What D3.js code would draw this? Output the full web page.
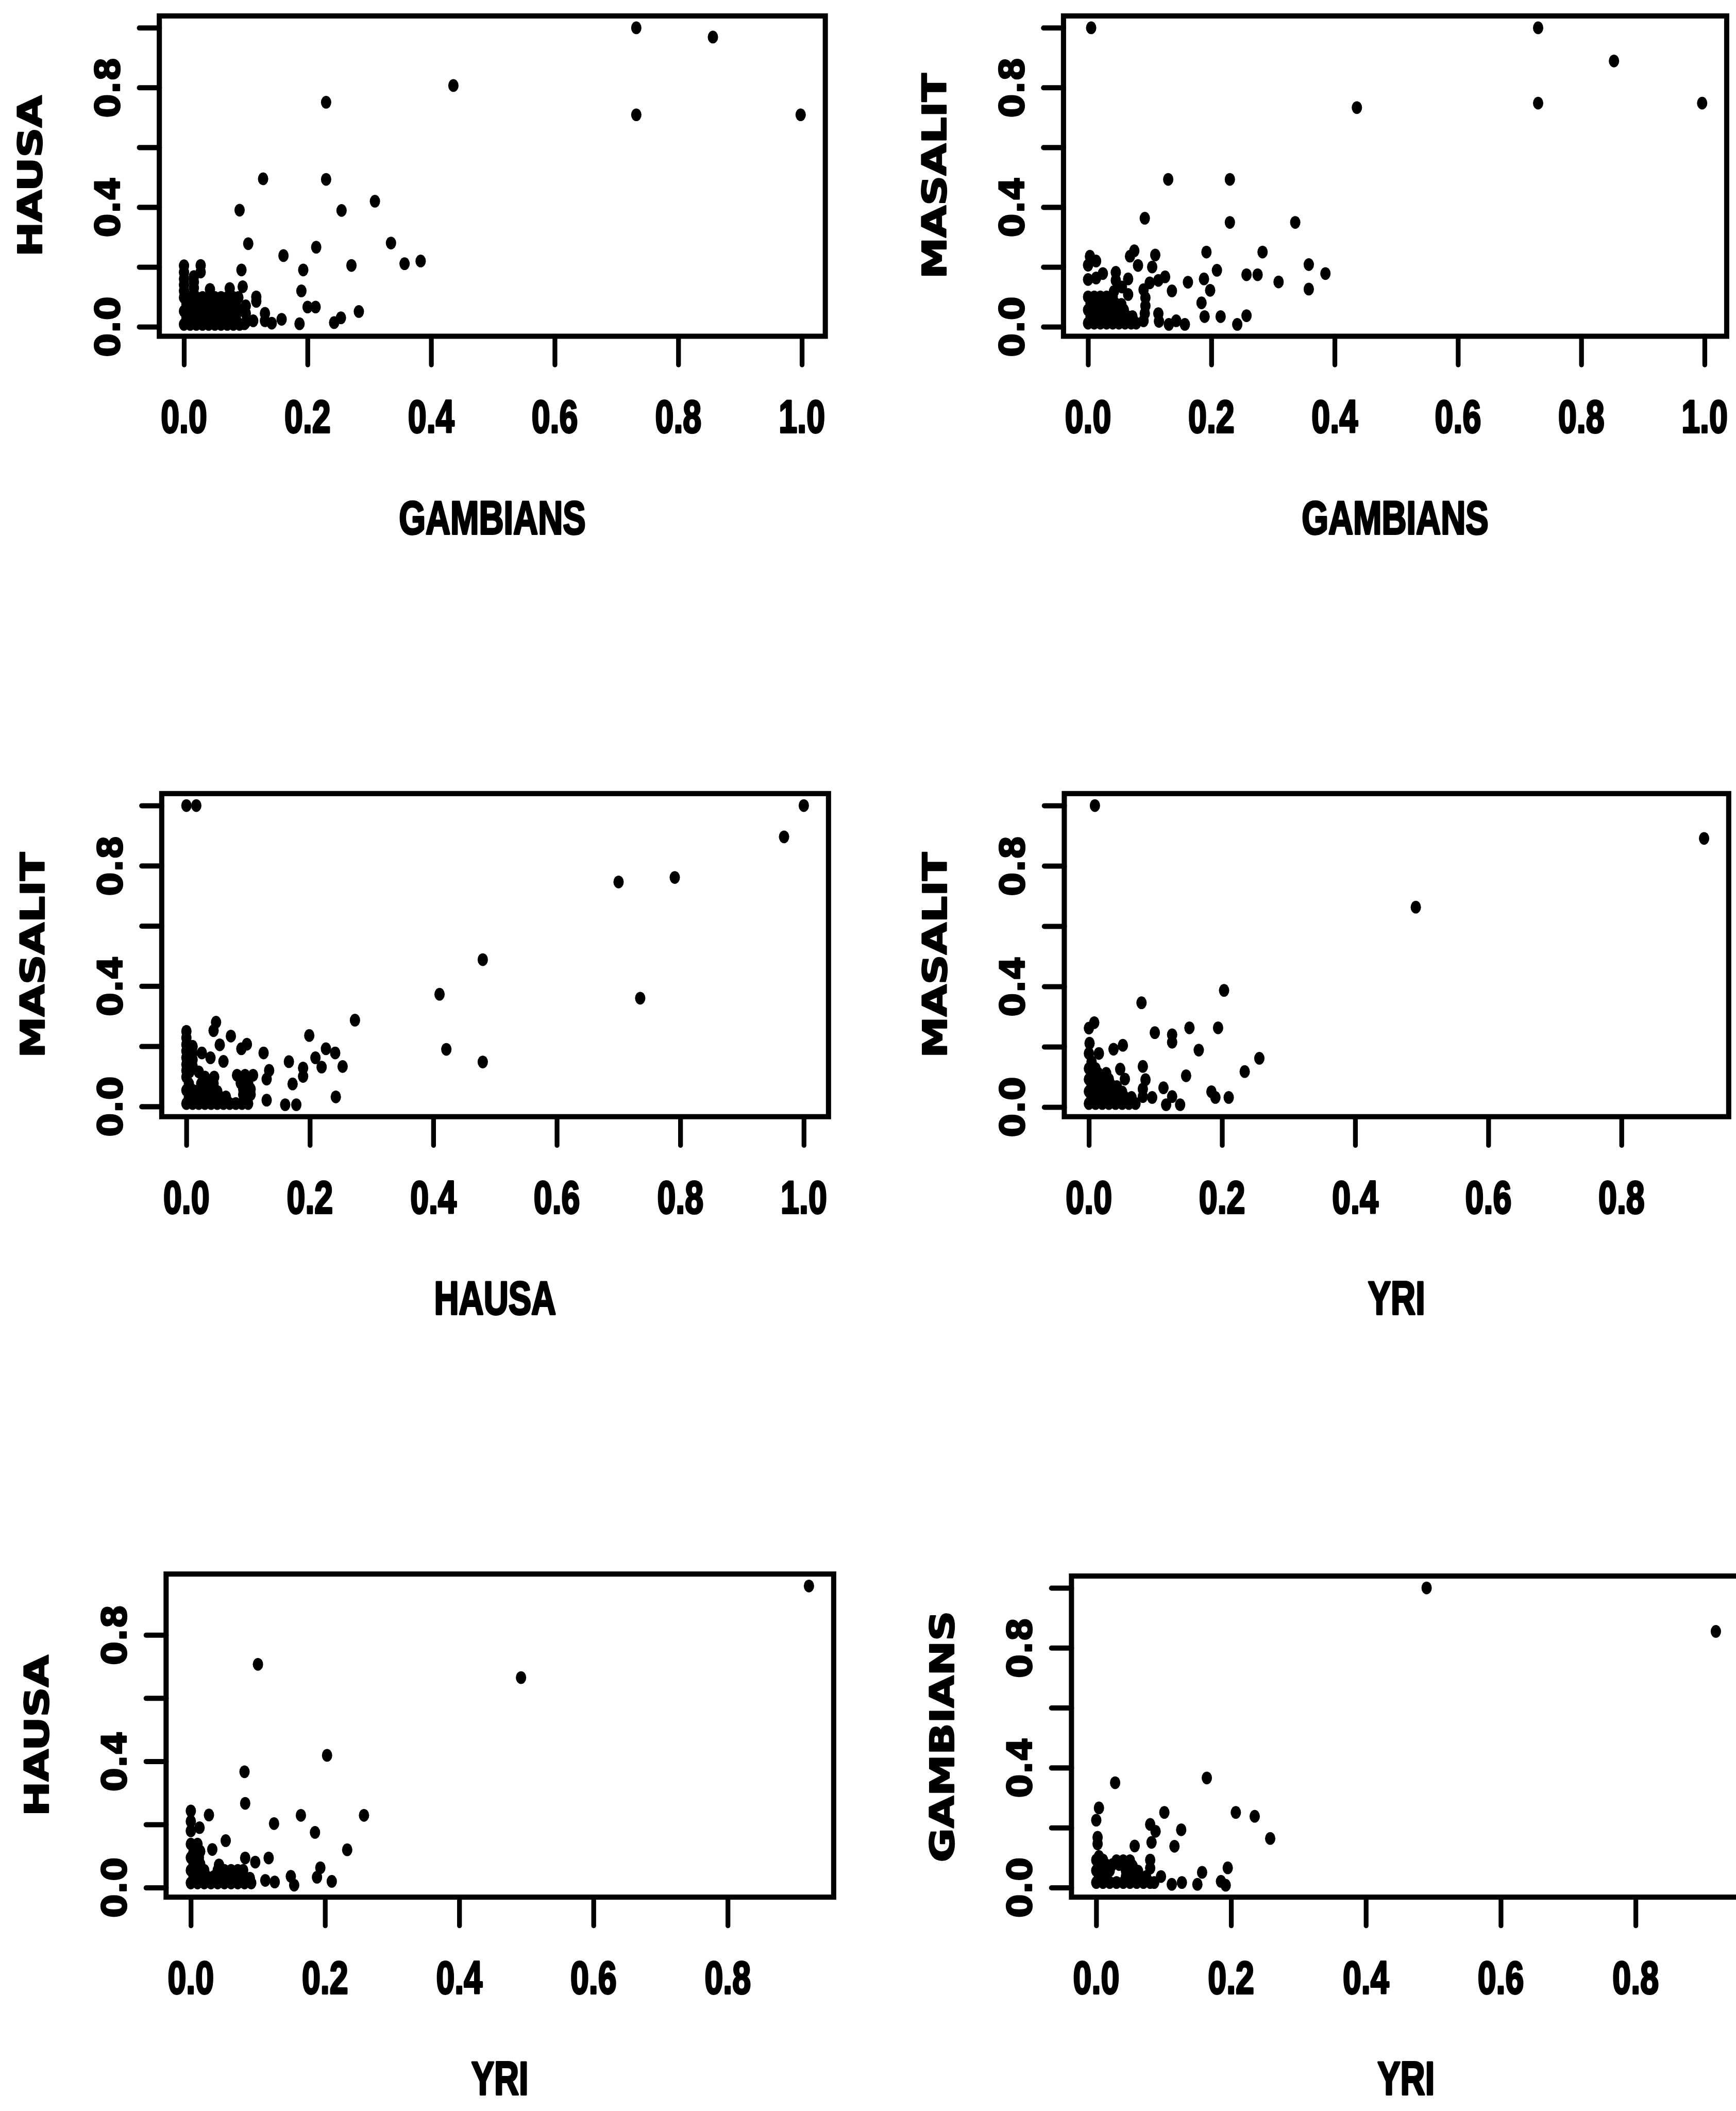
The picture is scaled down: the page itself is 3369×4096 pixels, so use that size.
<!DOCTYPE html>
<html>
<head>
<meta charset="utf-8">
<script src="https://cdn.jsdelivr.net/npm/d3@7"></script>
<style>
  html, body { margin: 0; padding: 0; background: #fff; }
  svg { display: block; }
</style>
</head>
<body>
<svg id="fig" width="3369" height="4096"></svg>
<script>
// Pairwise frequency comparisons between populations; each entry is [x, y].

const gambiansHausa = [
  [0.732,1.000],[0.856,0.969],[0.436,0.807],[0.230,0.751],[0.732,0.709],[0.998,0.709],
  [0.128,0.495],[0.230,0.493],[0.309,0.420],[0.090,0.390],[0.255,0.389],
  [0.104,0.278],[0.214,0.266],[0.335,0.280],[0.161,0.238],[0.357,0.211],[0.383,0.220],[0.271,0.205],
  [0.093,0.190],[0.193,0.190],[0.190,0.120],[0.200,0.066],[0.213,0.066],[0.283,0.051],
  [0.187,0.010],[0.243,0.014],[0.254,0.030],[0.095,0.134],
  [0.000,0.120],[0.000,0.140],[0.000,0.160],[0.000,0.182],[0.000,0.204],
  [0.016,0.110],[0.016,0.130],[0.016,0.150],[0.016,0.168],
  [0.027,0.205],[0.027,0.183],
  [0.000,0.008],[0.010,0.008],[0.020,0.008],[0.030,0.008],[0.040,0.008],[0.050,0.008],
  [0.060,0.008],[0.070,0.008],[0.080,0.008],[0.090,0.008],[0.098,0.010],
  [0.004,0.030],[0.014,0.030],[0.024,0.030],[0.034,0.030],[0.044,0.030],
  [0.054,0.030],[0.064,0.030],[0.074,0.030],[0.084,0.030],
  [0.000,0.052],[0.010,0.052],[0.020,0.052],[0.030,0.052],[0.040,0.052],
  [0.050,0.052],[0.060,0.052],[0.070,0.052],[0.080,0.052],[0.090,0.055],
  [0.004,0.075],[0.014,0.075],[0.024,0.075],[0.034,0.075],[0.044,0.075],
  [0.054,0.075],[0.064,0.075],[0.074,0.075],[0.084,0.075],
  [0.000,0.098],[0.010,0.098],[0.020,0.098],[0.030,0.098],[0.040,0.098],
  [0.050,0.098],[0.060,0.098],[0.070,0.098],[0.080,0.098],[0.088,0.098],
  [0.042,0.125],[0.074,0.128],
  [0.100,0.070],[0.100,0.045],[0.100,0.015],[0.117,0.100],[0.117,0.085],[0.112,0.020],
  [0.131,0.045],[0.131,0.020],[0.142,0.012],[0.158,0.025]
];

const gambiansMasalit = [
  [0.005,1.000],[0.730,1.000],[0.853,0.889],[0.436,0.733],[0.730,0.748],[0.996,0.748],
  [0.130,0.493],[0.230,0.493],[0.092,0.363],[0.230,0.349],[0.336,0.349],
  [0.192,0.250],[0.283,0.250],[0.209,0.189],[0.257,0.174],[0.275,0.174],[0.358,0.208],[0.385,0.178],
  [0.309,0.150],[0.358,0.126],[0.162,0.149],[0.188,0.160],[0.198,0.122],[0.184,0.080],[0.189,0.034],
  [0.215,0.034],[0.242,0.008],[0.257,0.037],[0.136,0.120],
  [0.003,0.236],[0.000,0.206],[0.013,0.220],[0.000,0.158],[0.013,0.163],[0.024,0.178],
  [0.045,0.182],[0.045,0.155],[0.065,0.160],[0.065,0.108],[0.055,0.133],
  [0.068,0.236],[0.075,0.254],[0.081,0.205],[0.109,0.240],[0.104,0.200],
  [0.090,0.124],[0.100,0.147],[0.114,0.155],[0.125,0.167],[0.093,0.097],[0.093,0.070],[0.092,0.045],[0.090,0.020],
  [0.114,0.044],[0.115,0.018],[0.131,0.008],[0.143,0.020],[0.157,0.008],
  [0.000,0.012],[0.010,0.012],[0.020,0.012],[0.030,0.012],[0.040,0.012],
  [0.050,0.012],[0.060,0.012],[0.070,0.012],[0.078,0.012],
  [0.004,0.034],[0.014,0.034],[0.024,0.034],[0.034,0.034],[0.044,0.034],
  [0.054,0.034],[0.064,0.034],[0.072,0.034],
  [0.000,0.056],[0.010,0.056],[0.020,0.056],[0.030,0.056],[0.040,0.056],[0.050,0.056],[0.058,0.056],
  [0.004,0.078],[0.014,0.078],[0.024,0.078],[0.034,0.078],[0.044,0.078],[0.054,0.075],
  [0.000,0.100],[0.010,0.100],[0.020,0.100],[0.030,0.100],[0.040,0.100],[0.042,0.118]
];

const hausaMasalit = [
  [0.000,1.000],[0.016,1.000],[1.000,1.000],[0.968,0.896],[0.700,0.746],[0.791,0.761],
  [0.480,0.488],[0.410,0.373],[0.735,0.360],[0.421,0.190],[0.480,0.148],
  [0.048,0.280],[0.044,0.252],[0.054,0.205],[0.072,0.234],[0.025,0.178],[0.039,0.162],[0.060,0.150],
  [0.089,0.192],[0.098,0.207],[0.125,0.178],[0.134,0.120],[0.130,0.091],[0.130,0.021],
  [0.166,0.149],[0.172,0.075],[0.160,0.006],[0.178,0.006],[0.189,0.128],[0.189,0.100],
  [0.199,0.236],[0.226,0.192],[0.209,0.162],[0.219,0.131],[0.241,0.178],[0.253,0.133],[0.242,0.032],[0.273,0.287],
  [0.000,0.250],[0.000,0.228],[0.000,0.206],[0.000,0.184],[0.000,0.162],[0.000,0.140],[0.000,0.120],
  [0.010,0.200],[0.010,0.178],[0.010,0.156],[0.010,0.134],
  [0.000,0.010],[0.010,0.010],[0.020,0.010],[0.030,0.010],[0.040,0.010],[0.050,0.010],
  [0.060,0.010],[0.070,0.010],[0.080,0.010],[0.090,0.010],[0.100,0.010],
  [0.004,0.032],[0.014,0.032],[0.024,0.032],[0.034,0.032],[0.044,0.032],[0.054,0.032],[0.064,0.032],
  [0.000,0.054],[0.010,0.054],[0.020,0.054],[0.030,0.054],[0.040,0.054],[0.050,0.050],
  [0.092,0.040],[0.104,0.040],[0.092,0.058],[0.104,0.058],
  [0.004,0.076],[0.024,0.076],[0.034,0.076],[0.044,0.076],[0.088,0.078],[0.100,0.078],
  [0.000,0.098],[0.030,0.098],[0.045,0.098],[0.082,0.104],[0.095,0.104],[0.108,0.104],
  [0.005,0.115],[0.020,0.115]
];

const yriMasalit = [
  [0.009,1.000],[0.924,0.891],[0.491,0.663],[0.203,0.387],[0.079,0.346],
  [0.000,0.262],[0.008,0.280],[0.151,0.263],[0.194,0.263],[0.099,0.247],[0.125,0.240],[0.125,0.215],
  [0.165,0.189],[0.256,0.162],[0.234,0.118],[0.146,0.104],[0.081,0.135],[0.085,0.091],[0.112,0.064],
  [0.125,0.035],[0.116,0.008],[0.137,0.008],[0.184,0.051],[0.190,0.032],[0.210,0.032],
  [0.001,0.212],[0.000,0.178],[0.015,0.178],[0.037,0.192],[0.051,0.205],[0.047,0.126],[0.054,0.093],
  [0.081,0.060],[0.081,0.035],[0.095,0.032],
  [0.000,0.012],[0.010,0.012],[0.020,0.012],[0.030,0.012],[0.040,0.012],[0.050,0.012],[0.060,0.012],[0.070,0.012],
  [0.004,0.032],[0.014,0.032],[0.024,0.032],[0.034,0.032],[0.044,0.032],[0.054,0.032],[0.064,0.032],
  [0.000,0.052],[0.010,0.052],[0.020,0.052],[0.030,0.052],[0.040,0.052],[0.050,0.050],
  [0.004,0.072],[0.014,0.072],[0.024,0.072],[0.034,0.072],[0.042,0.068],
  [0.000,0.092],[0.010,0.092],[0.020,0.092],[0.030,0.092],
  [0.004,0.112],[0.014,0.112],[0.026,0.112],
  [0.000,0.128],[0.010,0.128],[0.004,0.150]
];

const yriHausa = [
  [0.921,0.955],[0.100,0.707],[0.492,0.665],[0.203,0.419],[0.080,0.367],[0.081,0.267],
  [0.258,0.229],[0.164,0.229],[0.124,0.203],[0.185,0.175],[0.027,0.230],
  [0.000,0.243],[0.000,0.210],[0.000,0.180],[0.013,0.190],[0.052,0.149],[0.032,0.121],[0.233,0.120],
  [0.081,0.094],[0.096,0.081],[0.116,0.094],[0.193,0.063],[0.188,0.033],[0.210,0.020],
  [0.111,0.023],[0.125,0.018],[0.149,0.036],[0.154,0.008],
  [0.000,0.015],[0.010,0.015],[0.020,0.015],[0.030,0.015],[0.040,0.015],
  [0.050,0.015],[0.060,0.015],[0.070,0.015],[0.080,0.015],[0.090,0.015],
  [0.004,0.035],[0.014,0.035],[0.024,0.035],[0.034,0.035],[0.044,0.035],
  [0.054,0.035],[0.064,0.035],[0.074,0.035],[0.088,0.030],
  [0.000,0.055],[0.010,0.055],[0.020,0.055],[0.040,0.055],[0.050,0.055],
  [0.060,0.055],[0.070,0.055],[0.078,0.055],
  [0.004,0.075],[0.014,0.075],[0.042,0.072],
  [0.000,0.095],[0.012,0.095],
  [0.004,0.115],[0.014,0.115],
  [0.000,0.138],[0.010,0.138]
];

const yriGambians = [
  [0.490,1.000],[0.919,0.855],[0.028,0.350],[0.164,0.366],[0.207,0.251],[0.235,0.238],[0.258,0.164],
  [0.004,0.266],[0.000,0.225],[0.101,0.251],[0.080,0.211],[0.088,0.188],[0.126,0.193],
  [0.082,0.151],[0.057,0.139],[0.116,0.138],[0.002,0.168],[0.002,0.146],
  [0.080,0.092],[0.080,0.065],[0.195,0.066],[0.157,0.051],[0.096,0.037],
  [0.112,0.011],[0.127,0.017],[0.150,0.011],[0.185,0.021],[0.192,0.008],
  [0.000,0.017],[0.010,0.017],[0.020,0.017],[0.030,0.017],[0.040,0.017],
  [0.050,0.017],[0.060,0.017],[0.070,0.017],[0.080,0.017],[0.086,0.017],
  [0.004,0.037],[0.014,0.037],[0.044,0.037],[0.054,0.037],[0.064,0.037],[0.074,0.037],
  [0.000,0.057],[0.010,0.057],[0.020,0.057],[0.044,0.057],[0.054,0.057],[0.062,0.055],
  [0.004,0.077],[0.014,0.077],[0.024,0.077],[0.034,0.077],[0.044,0.077],[0.054,0.072],
  [0.000,0.092],[0.010,0.092],[0.030,0.090],[0.040,0.090],[0.050,0.090],
  [0.004,0.104]
];

// Axis annotations
const tickValues = [0, 0.2, 0.4, 0.6, 0.8, 1.0];
const yLabelValues = [0, 0.4, 0.8];

// Panel layout (drawn in a 4355 x 5294 frame, then scaled to the window)
const panels = [
  { xName: "GAMBIANS", yName: "HAUSA",    points: gambiansHausa,   box: [400, 40, 2072, 844] },
  { xName: "GAMBIANS", yName: "MASALIT",  points: gambiansMasalit, box: [2670, 40, 4335, 844] },
  { xName: "HAUSA",    yName: "MASALIT",  points: hausaMasalit,    box: [406, 1992, 2080, 2803] },
  { xName: "YRI",      yName: "MASALIT",  points: yriMasalit,      box: [2672, 1992, 4340, 2803] },
  { xName: "YRI",      yName: "HAUSA",    points: yriHausa,        box: [417, 3951, 2093, 4762] },
  { xName: "YRI",      yName: "GAMBIANS", points: yriGambians,     box: [2690, 3956, 4370, 4762] }
];

const SCALE = 0.773;
const fmt = d3.format(".1f");
const svg = d3.select("#fig");
svg.append("rect").attr("width", 3369).attr("height", 4096).attr("fill", "#fff");
const root = svg.append("g").attr("transform", `scale(${SCALE})`);

// R-style axis range: data extent widened by 4% on each side
function padded(values) {
  const [lo, hi] = d3.extent(values);
  const r = hi - lo;
  return [lo - 0.04 * r, hi + 0.04 * r];
}

// heavy bold text: fill plus a matching outline
function heavy(sel, size, family, stroke) {
  return sel
    .attr("font-family", family)
    .attr("font-weight", "bold")
    .attr("font-size", size)
    .attr("fill", "#000")
    .attr("stroke", "#000")
    .attr("stroke-width", stroke)
    .attr("stroke-linejoin", "round");
}

const SANS = "'Liberation Sans', Arial, sans-serif";
const WIDE = "'DejaVu Sans', sans-serif";

panels.forEach(p => {
  const [x0, y0, x1, y1] = p.box;
  const xDom = padded(p.points.map(d => d[0]));
  const yDom = padded(p.points.map(d => d[1]));
  const x = d3.scaleLinear().domain(xDom).range([x0, x1]);
  const y = d3.scaleLinear().domain(yDom).range([y1, y0]);
  const inside = dom => v => v >= dom[0] && v <= dom[1];
  const xTicks = tickValues.filter(inside(xDom));
  const yTicks = tickValues.filter(inside(yDom));

  const g = root.append("g");

  // points
  g.append("g").selectAll("ellipse")
    .data(p.points)
    .join("ellipse")
    .attr("cx", d => x(d[0]))
    .attr("cy", d => y(d[1]))
    .attr("rx", 13)
    .attr("ry", 16)
    .attr("fill", "#000");

  // x axis ticks
  const xa = g.append("g")
    .attr("transform", `translate(0,${y1})`)
    .call(d3.axisBottom(x).tickValues(xTicks).tickSize(72).tickFormat(""));
  xa.select(".domain").remove();
  xa.selectAll(".tick line").attr("stroke", "#000").attr("stroke-width", 12).attr("stroke-linecap", "round");

  // y axis ticks
  const ya = g.append("g")
    .attr("transform", `translate(${x0},0)`)
    .call(d3.axisLeft(y).tickValues(yTicks).tickSize(50).tickFormat(""));
  ya.select(".domain").remove();
  ya.selectAll(".tick line").attr("stroke", "#000").attr("stroke-width", 13).attr("stroke-linecap", "round");

  // plot frame
  g.append("rect")
    .attr("x", x0).attr("y", y0)
    .attr("width", x1 - x0).attr("height", y1 - y0)
    .attr("fill", "none")
    .attr("stroke", "#000")
    .attr("stroke-width", 13);

  // x tick labels (condensed bold)
  heavy(g.append("g").selectAll("text")
    .data(xTicks)
    .join("text")
    .attr("transform", d => `translate(${x(d)},${y1 + 242}) scale(0.72,1)`)
    .attr("text-anchor", "middle"), 116, SANS, 5)
    .text(fmt);

  // y tick labels (rotated, parallel to axis)
  heavy(g.append("g").selectAll("text")
    .data(yLabelValues.filter(inside(yDom)))
    .join("text")
    .attr("transform", d => `translate(${x0 - 100},${y(d)}) rotate(-90)`)
    .attr("text-anchor", "middle"), 86, WIDE, 3)
    .text(fmt);

  // x axis title
  heavy(g.append("text")
    .attr("transform", `translate(${(x0 + x1) / 2},${y1 + 496}) scale(0.73,1)`)
    .attr("text-anchor", "middle"), 118, SANS, 5)
    .text(p.xName);

  // y axis title
  heavy(g.append("text")
    .attr("transform", `translate(${x0 - 295},${(y0 + y1) / 2}) rotate(-90) scale(1.27,1)`)
    .attr("text-anchor", "middle"), 82, WIDE, 3)
    .text(p.yName);
});
</script>
</body>
</html>
